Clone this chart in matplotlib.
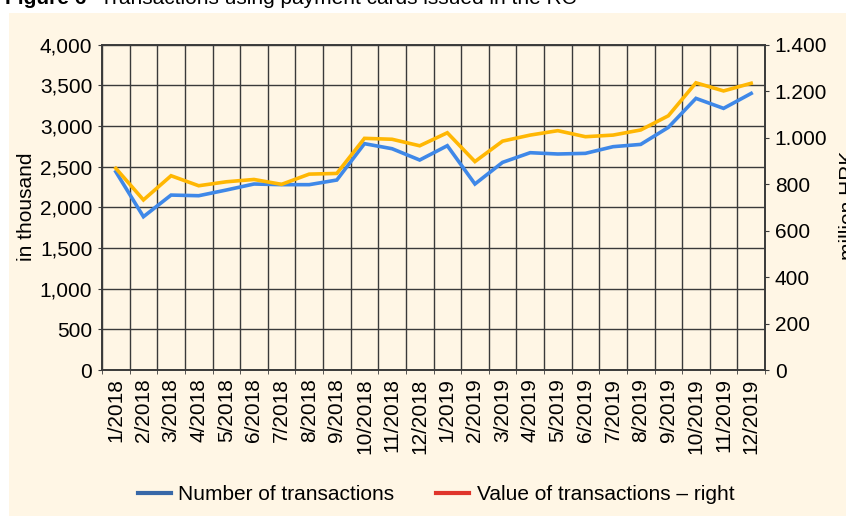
import matplotlib.pyplot as plt
from matplotlib.patches import Rectangle
from matplotlib.lines import Line2D
import numpy as np

plt.rcParams['font.family'] = ['Liberation Sans', 'DejaVu Sans']

months = ["1/2018", "2/2018", "3/2018", "4/2018", "5/2018", "6/2018",
          "7/2018", "8/2018", "9/2018", "10/2018", "11/2018", "12/2018",
          "1/2019", "2/2019", "3/2019", "4/2019", "5/2019", "6/2019",
          "7/2019", "8/2019", "9/2019", "10/2019", "11/2019", "12/2019"]

# number of transactions, in thousand (left axis)
number_tx = [2438, 1885, 2151, 2143, 2213, 2287, 2279, 2279, 2336, 2783, 2721, 2582,
             2758, 2287, 2553, 2672, 2656, 2664, 2746, 2774, 2983, 3340, 3217, 3401]

# value of transactions, million HRK (right axis)
value_tx = [868, 732, 836, 793, 810, 820, 799, 843, 846, 997, 993, 965,
            1021, 897, 985, 1011, 1030, 1004, 1011, 1033, 1094, 1236, 1201, 1234]

left_ticks = [0, 500, 1000, 1500, 2000, 2500, 3000, 3500, 4000]
right_ticks = [0, 200, 400, 600, 800, 1000, 1200, 1400]

beige = "#FFF6E5"
blue = "#3F88E8"
yellow = "#FFB703"
grid_c = "#3a3a3a"
fs = 15

fig = plt.figure(figsize=(8.46, 5.16), dpi=100, facecolor="white")
fig.patches.append(Rectangle((9 / 846, 0), 1, 503 / 516, transform=fig.transFigure,
                             facecolor=beige, edgecolor="none", zorder=-10))

ax = fig.add_axes([102 / 846, 146 / 516, 663 / 846, 325.3 / 516])
ax.set_facecolor(beige)
ax2 = ax.twinx()

x = np.arange(len(months))
ax2.plot(x, value_tx, color=yellow, lw=2.6, solid_joinstyle="miter")
ax.plot(x, number_tx, color=blue, lw=2.6, solid_joinstyle="miter")

ax.set_xlim(-0.5, len(months) - 0.5)
ax.set_ylim(0, 4000)
ax2.set_ylim(0, 1400)

ax.set_yticks(left_ticks)
ax.set_yticklabels([f"{v:,}" for v in left_ticks], fontsize=fs)
ax2.set_yticks(right_ticks)
ax2.set_yticklabels([f"{v:,}".replace(",", ".") for v in right_ticks], fontsize=fs)

ax.set_xticks(x)
ax.set_xticklabels(months, rotation=90, fontsize=fs)
ax.set_xticks(np.arange(-0.5, len(months)), minor=True)
ax.tick_params(axis="x", which="major", length=0, pad=6)
ax.tick_params(axis="x", which="minor", length=3, color=grid_c)
ax.tick_params(axis="y", length=3, color=grid_c, pad=4)
ax2.tick_params(axis="y", length=3, color=grid_c, pad=4)

ax.grid(axis="y", which="major", color=grid_c, lw=1.0)
ax.grid(axis="x", which="minor", color=grid_c, lw=1.0)
ax.set_axisbelow(True)

for a in (ax, ax2):
    for s in a.spines.values():
        s.set_color(grid_c)
        s.set_linewidth(1.2)

fig.text(27 / 846, 1 - 207 / 516, "in thousand", rotation=90, ha="center", va="center", fontsize=fs)
fig.text(848 / 846, 1 - 205 / 516, "million HRK", rotation=90, ha="center", va="center", fontsize=fs)

# title is cropped at the top edge in the reference
fig.text(5 / 846, 1 - 4 / 516, "Figure 6", fontsize=15, fontweight="bold", va="baseline")
fig.text(100 / 846, 1 - 4 / 516, "Transactions using payment cards issued in the RC",
         fontsize=15, va="baseline")

handles = [Line2D([], [], color="#3868A8", lw=3),
           Line2D([], [], color="#E0352B", lw=3)]
fig.legend(handles, ["Number of transactions", "Value of transactions \u2013 right"],
           loc="center", bbox_to_anchor=(436 / 846, 21 / 516), ncol=2, frameon=False,
           fontsize=15, handlelength=1.6, handletextpad=0.35, columnspacing=2.0)

fig.savefig("out.png", dpi=100, facecolor=fig.get_facecolor())
